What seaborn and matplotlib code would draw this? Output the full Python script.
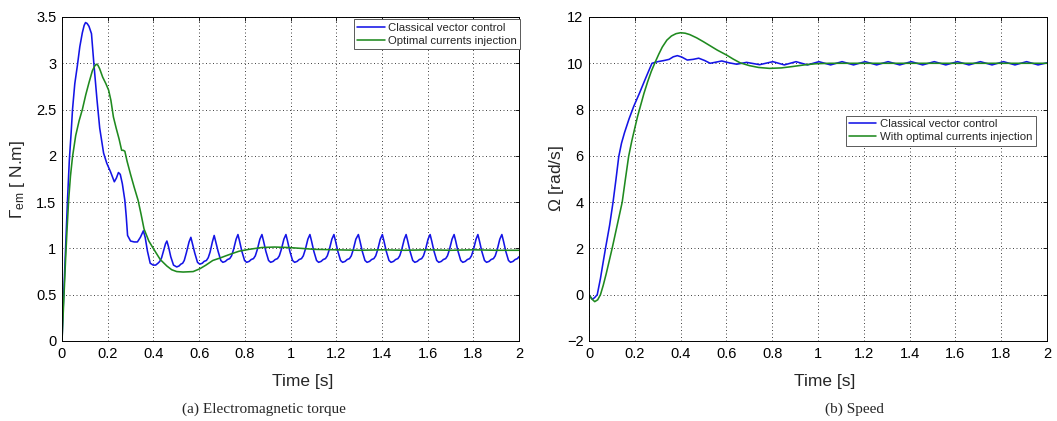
import matplotlib
matplotlib.use("Agg")
import matplotlib.pyplot as plt
import seaborn as sns
import pandas as pd

# ---------------- data ----------------
# (a) Electromagnetic torque, classical vector control
torque_classic_t = [
    0.000, 0.005, 0.010, 0.017, 0.024, 0.032, 0.040, 0.046, 0.056, 0.067, 0.078, 0.089, 0.097, 0.103,
    0.110, 0.118, 0.129, 0.140, 0.153, 0.165, 0.182, 0.196, 0.212, 0.229, 0.238, 0.247, 0.255, 0.264,
    0.275, 0.281, 0.287, 0.300, 0.316, 0.330, 0.343, 0.356,
    0.364, 0.374, 0.386, 0.399, 0.410, 0.420, 0.428, 0.436, 0.446, 0.453, 0.459,
    0.466, 0.476, 0.488, 0.502, 0.512, 0.520, 0.528, 0.535, 0.544, 0.556, 0.564,
    0.571, 0.581, 0.593, 0.603, 0.614, 0.622, 0.632, 0.640, 0.648, 0.658, 0.666,
    0.673, 0.683, 0.695, 0.704, 0.715, 0.724, 0.734, 0.742, 0.751, 0.762, 0.770,
    0.777, 0.787, 0.799, 0.808, 0.819, 0.828, 0.838, 0.846, 0.855, 0.866, 0.875,
    0.882, 0.892, 0.904, 0.913, 0.924, 0.933, 0.943, 0.951, 0.960, 0.971, 0.980,
    0.987, 0.997, 1.009, 1.018, 1.029, 1.038, 1.048, 1.056, 1.065, 1.076, 1.085,
    1.092, 1.102, 1.114, 1.123, 1.134, 1.143, 1.153, 1.161, 1.170, 1.181, 1.190,
    1.197, 1.207, 1.219, 1.228, 1.239, 1.248, 1.258, 1.266, 1.275, 1.286, 1.297,
    1.304, 1.314, 1.326, 1.335, 1.346, 1.355, 1.365, 1.373, 1.382, 1.393, 1.402,
    1.409, 1.419, 1.431, 1.440, 1.451, 1.460, 1.470, 1.478, 1.487, 1.498, 1.506,
    1.513, 1.523, 1.535, 1.544, 1.555, 1.564, 1.574, 1.582, 1.591, 1.602, 1.611,
    1.618, 1.628, 1.640, 1.649, 1.660, 1.669, 1.679, 1.687, 1.696, 1.707, 1.716,
    1.723, 1.733, 1.745, 1.754, 1.765, 1.774, 1.784, 1.792, 1.801, 1.812, 1.820,
    1.827, 1.837, 1.849, 1.858, 1.869, 1.878, 1.888, 1.896, 1.905, 1.916, 1.925,
    1.932, 1.942, 1.954, 1.963, 1.974, 1.983, 1.993, 2.000,
]
torque_classic = [
    0.00, 0.35, 0.65, 1.10, 1.52, 1.95, 2.25, 2.50, 2.78, 2.97, 3.18, 3.33, 3.41, 3.44,
    3.43, 3.40, 3.32, 2.98, 2.61, 2.30, 2.03, 1.92, 1.83, 1.72, 1.76, 1.82, 1.80, 1.70,
    1.52, 1.35, 1.14, 1.08, 1.07, 1.07, 1.12, 1.19,
    1.12, 0.97, 0.84, 0.82, 0.82, 0.84, 0.86, 0.90, 0.99, 1.05, 1.08,
    1.02, 0.91, 0.82, 0.80, 0.81, 0.83, 0.84, 0.87, 0.95, 1.07, 1.12,
    1.05, 0.95, 0.85, 0.83, 0.84, 0.86, 0.87, 0.90, 0.96, 1.07, 1.14,
    1.07, 0.97, 0.87, 0.85, 0.86, 0.88, 0.89, 0.92, 0.99, 1.10, 1.15,
    1.08, 0.97, 0.87, 0.85, 0.86, 0.88, 0.89, 0.92, 0.99, 1.10, 1.15,
    1.08, 0.97, 0.87, 0.85, 0.86, 0.88, 0.89, 0.92, 0.99, 1.10, 1.15,
    1.08, 0.97, 0.87, 0.85, 0.86, 0.88, 0.89, 0.92, 0.99, 1.10, 1.15,
    1.08, 0.97, 0.87, 0.85, 0.86, 0.88, 0.89, 0.92, 0.99, 1.10, 1.15,
    1.08, 0.97, 0.87, 0.85, 0.86, 0.88, 0.89, 0.92, 0.99, 1.10, 1.15,
    1.08, 0.97, 0.87, 0.85, 0.86, 0.88, 0.89, 0.92, 0.99, 1.10, 1.15,
    1.08, 0.97, 0.87, 0.85, 0.86, 0.88, 0.89, 0.92, 0.99, 1.10, 1.15,
    1.08, 0.97, 0.87, 0.85, 0.86, 0.88, 0.89, 0.92, 0.99, 1.10, 1.15,
    1.08, 0.97, 0.87, 0.85, 0.86, 0.88, 0.89, 0.92, 0.99, 1.10, 1.15,
    1.08, 0.97, 0.87, 0.85, 0.86, 0.88, 0.89, 0.92, 0.99, 1.10, 1.15,
    1.08, 0.97, 0.87, 0.85, 0.86, 0.88, 0.89, 0.92, 0.99, 1.10, 1.15,
    1.08, 0.97, 0.87, 0.85, 0.86, 0.88, 0.89, 0.91,
]

# (a) Electromagnetic torque, optimal currents injection
torque_optimal_t = [
    0.000, 0.008, 0.016, 0.022, 0.029, 0.037, 0.046, 0.060, 0.075, 0.089, 0.104, 0.118, 0.133,
    0.143, 0.150, 0.157, 0.165, 0.178, 0.192, 0.204, 0.214, 0.225, 0.237, 0.250, 0.261, 0.268,
    0.275, 0.285, 0.300, 0.316, 0.333, 0.346, 0.359, 0.380, 0.402, 0.430, 0.459, 0.480, 0.502,
    0.530, 0.574, 0.603, 0.630, 0.660, 0.690, 0.717, 0.745, 0.775, 0.818, 0.875, 0.930, 0.990,
    1.050, 1.105, 1.200, 1.300, 1.400, 1.500, 1.600, 1.700, 1.800, 1.900, 2.000,
]
torque_optimal = [
    0.00, 0.45, 0.90, 1.20, 1.52, 1.78, 1.99, 2.22, 2.38, 2.50, 2.66, 2.79, 2.92,
    2.97, 2.99, 2.98, 2.94, 2.85, 2.78, 2.71, 2.60, 2.42, 2.30, 2.18, 2.06, 2.06,
    2.05, 1.94, 1.80, 1.66, 1.52, 1.37, 1.21, 1.08, 0.99, 0.88, 0.81, 0.77, 0.75,
    0.745, 0.75, 0.78, 0.82, 0.87, 0.895, 0.92, 0.945, 0.97, 0.99, 1.01, 1.015, 1.01,
    1.00, 0.99, 0.985, 0.98, 0.985, 0.98, 0.985, 0.98, 0.985, 0.98, 0.98,
]

# (b) Speed, classical vector control
speed_classic_t = [
    0.000, 0.008, 0.015, 0.025, 0.036, 0.050, 0.060, 0.072, 0.090, 0.105, 0.118, 0.130, 0.142,
    0.155, 0.175, 0.195, 0.220, 0.245, 0.262, 0.275, 0.300, 0.328, 0.350, 0.368, 0.386, 0.405,
    0.429, 0.455, 0.479, 0.505, 0.529, 0.555, 0.580, 0.612, 0.645, 0.667, 0.688, 0.745, 0.803,
    0.853, 0.904, 0.954, 1.004, 1.055, 1.105, 1.155, 1.206, 1.256, 1.306, 1.357, 1.407, 1.457,
    1.508, 1.558, 1.609, 1.659, 1.709, 1.760, 1.810, 1.860, 1.911, 1.961, 2.000,
]
speed_classic = [
    0.00, -0.12, -0.20, -0.12, 0.00, 0.70, 1.30, 2.00, 3.00, 4.00, 5.00, 5.97, 6.55,
    7.00, 7.60, 8.13, 8.70, 9.30, 9.70, 10.00, 10.07, 10.12, 10.17, 10.28, 10.33, 10.27,
    10.14, 10.17, 10.22, 10.12, 10.00, 10.05, 10.10, 10.02, 9.96, 10.00, 10.04, 9.94, 10.07,
    9.93, 10.07, 9.93, 10.07, 9.93, 10.07, 9.93, 10.07, 9.93, 10.07, 9.93, 10.07, 9.93,
    10.07, 9.93, 10.07, 9.93, 10.07, 9.93, 10.07, 9.93, 10.07, 9.93, 10.02,
]

# (b) Speed, with optimal currents injection
speed_optimal_t = [
    0.000, 0.012, 0.025, 0.038, 0.050, 0.062, 0.075, 0.088, 0.101, 0.112, 0.123, 0.134, 0.145,
    0.159, 0.173, 0.187, 0.200, 0.212, 0.224, 0.240, 0.256, 0.272, 0.289, 0.305, 0.320, 0.340,
    0.360, 0.380, 0.400, 0.420, 0.440, 0.470, 0.500, 0.530, 0.560, 0.600, 0.630, 0.660, 0.700,
    0.740, 0.788, 0.840, 0.889, 0.940, 0.990, 1.050, 1.200, 1.400, 1.600, 1.800, 2.000,
]
speed_optimal = [
    0.00, -0.18, -0.30, -0.22, 0.00, 0.40, 0.90, 1.45, 2.00, 2.50, 3.00, 3.50, 4.00,
    5.00, 5.97, 6.65, 7.20, 7.70, 8.13, 8.70, 9.20, 9.65, 10.05, 10.40, 10.70, 11.00,
    11.18, 11.28, 11.32, 11.30, 11.24, 11.10, 10.93, 10.75, 10.57, 10.36, 10.18, 10.02, 9.90,
    9.82, 9.78, 9.80, 9.86, 9.93, 9.98, 10.00, 10.00, 10.00, 10.00, 10.00, 10.00,
]

time_ticks = [0, 0.2, 0.4, 0.6, 0.8, 1.0, 1.2, 1.4, 1.6, 1.8, 2.0]
time_tick_labels = ["0", "0.2", "0.4", "0.6", "0.8", "1", "1.2", "1.4", "1.6", "1.8", "2"]
torque_ticks = [0, 0.5, 1, 1.5, 2, 2.5, 3, 3.5]
torque_tick_labels = ["0", "0.5", "1", "1.5", "2", "2.5", "3", "3.5"]
speed_ticks = [-2, 0, 2, 4, 6, 8, 10, 12]
speed_tick_labels = ["\u22122", "0", "2", "4", "6", "8", "10", "12"]

legend_a = ["Classical vector control", "Optimal currents injection"]
legend_b = ["Classical vector control", "With optimal currents injection"]
captions = ["(a) Electromagnetic torque", "(b) Speed"]

# ---------------- style ----------------
sns.set_theme(style="white")
plt.rcParams["font.family"] = ["Liberation Sans", "DejaVu Sans"]
plt.rcParams["mathtext.fontset"] = "custom"
plt.rcParams["mathtext.rm"] = "Liberation Sans"
plt.rcParams["mathtext.it"] = "Liberation Sans:italic"

BLUE = "#1414e6"
GREEN = "#1f8a1f"

fig = plt.figure(figsize=(10.57, 4.21), dpi=100)
ax_a = fig.add_axes([62 / 1057, 80 / 421, 457 / 1057, 324 / 421])
ax_b = fig.add_axes([589 / 1057, 80 / 421, 458 / 1057, 324 / 421])

df_a1 = pd.DataFrame({"t": torque_classic_t, "v": torque_classic})
df_a2 = pd.DataFrame({"t": torque_optimal_t, "v": torque_optimal})
df_b1 = pd.DataFrame({"t": speed_classic_t, "v": speed_classic})
df_b2 = pd.DataFrame({"t": speed_optimal_t, "v": speed_optimal})

sns.lineplot(data=df_a1, x="t", y="v", ax=ax_a, color=BLUE, lw=1.15,
             estimator=None, sort=False, label=legend_a[0])
sns.lineplot(data=df_a2, x="t", y="v", ax=ax_a, color=GREEN, lw=1.15,
             estimator=None, sort=False, label=legend_a[1])
sns.lineplot(data=df_b1, x="t", y="v", ax=ax_b, color=BLUE, lw=1.15,
             estimator=None, sort=False, label=legend_b[0])
sns.lineplot(data=df_b2, x="t", y="v", ax=ax_b, color=GREEN, lw=1.15,
             estimator=None, sort=False, label=legend_b[1])


def style_axes(ax, yticks, ylabels, ylim, xlabel_x):
    ax.set_xlim(0, 2)
    ax.set_ylim(*ylim)
    ax.set_xticks(time_ticks)
    ax.set_xticklabels(time_tick_labels)
    ax.set_yticks(yticks)
    ax.set_yticklabels(ylabels)
    ax.grid(True, linestyle=(0, (1, 2.6)), color="0.25", lw=0.7)
    ax.tick_params(direction="in", length=3, width=0.6, top=True, right=True,
                   labelsize=10.5, colors="black", pad=4)
    for s in ax.spines.values():
        s.set_visible(True)
        s.set_color("black")
        s.set_linewidth(0.7)
    ax.set_xlabel("Time [s]", fontsize=12.5)
    ax.xaxis.label.set_va("center")
    ax.xaxis.set_label_coords(xlabel_x, -0.126)


style_axes(ax_a, torque_ticks, torque_tick_labels, (0, 3.5), 0.526)
style_axes(ax_b, speed_ticks, speed_tick_labels, (-2, 12), 0.515)

ax_a.set_ylabel(r"$\Gamma_{\mathrm{em}}$ [ N.m]", fontsize=12.5)
ax_a.yaxis.label.set_va("center")
ax_a.yaxis.set_label_coords(-0.098, 0.5)
ax_b.set_ylabel(r"$\Omega$ [rad/s]", fontsize=12.5)
ax_b.yaxis.label.set_va("center")
ax_b.yaxis.set_label_coords(-0.071, 0.5)

leg_kw = dict(fontsize=8.2, frameon=True, fancybox=False, handlelength=2.4,
              handletextpad=0.3, borderpad=0.3, labelspacing=0.25, borderaxespad=0.0)
la = ax_a.legend(loc="upper right", bbox_to_anchor=(1.003, 0.993), **leg_kw)
lb = ax_b.legend(loc="upper left", bbox_to_anchor=(0.5605, 0.695), **leg_kw)
for lg in (la, lb):
    fr = lg.get_frame()
    fr.set_edgecolor("0.35")
    fr.set_linewidth(0.7)
    fr.set_facecolor("white")
    fr.set_alpha(1)

fig.text(264 / 1057, 8 / 421, captions[0], ha="center", va="baseline",
         fontsize=11, family="Liberation Serif")
fig.text(854 / 1057, 8 / 421, captions[1], ha="center", va="baseline",
         fontsize=11, family="Liberation Serif")

fig.savefig("out.png", dpi=100)
